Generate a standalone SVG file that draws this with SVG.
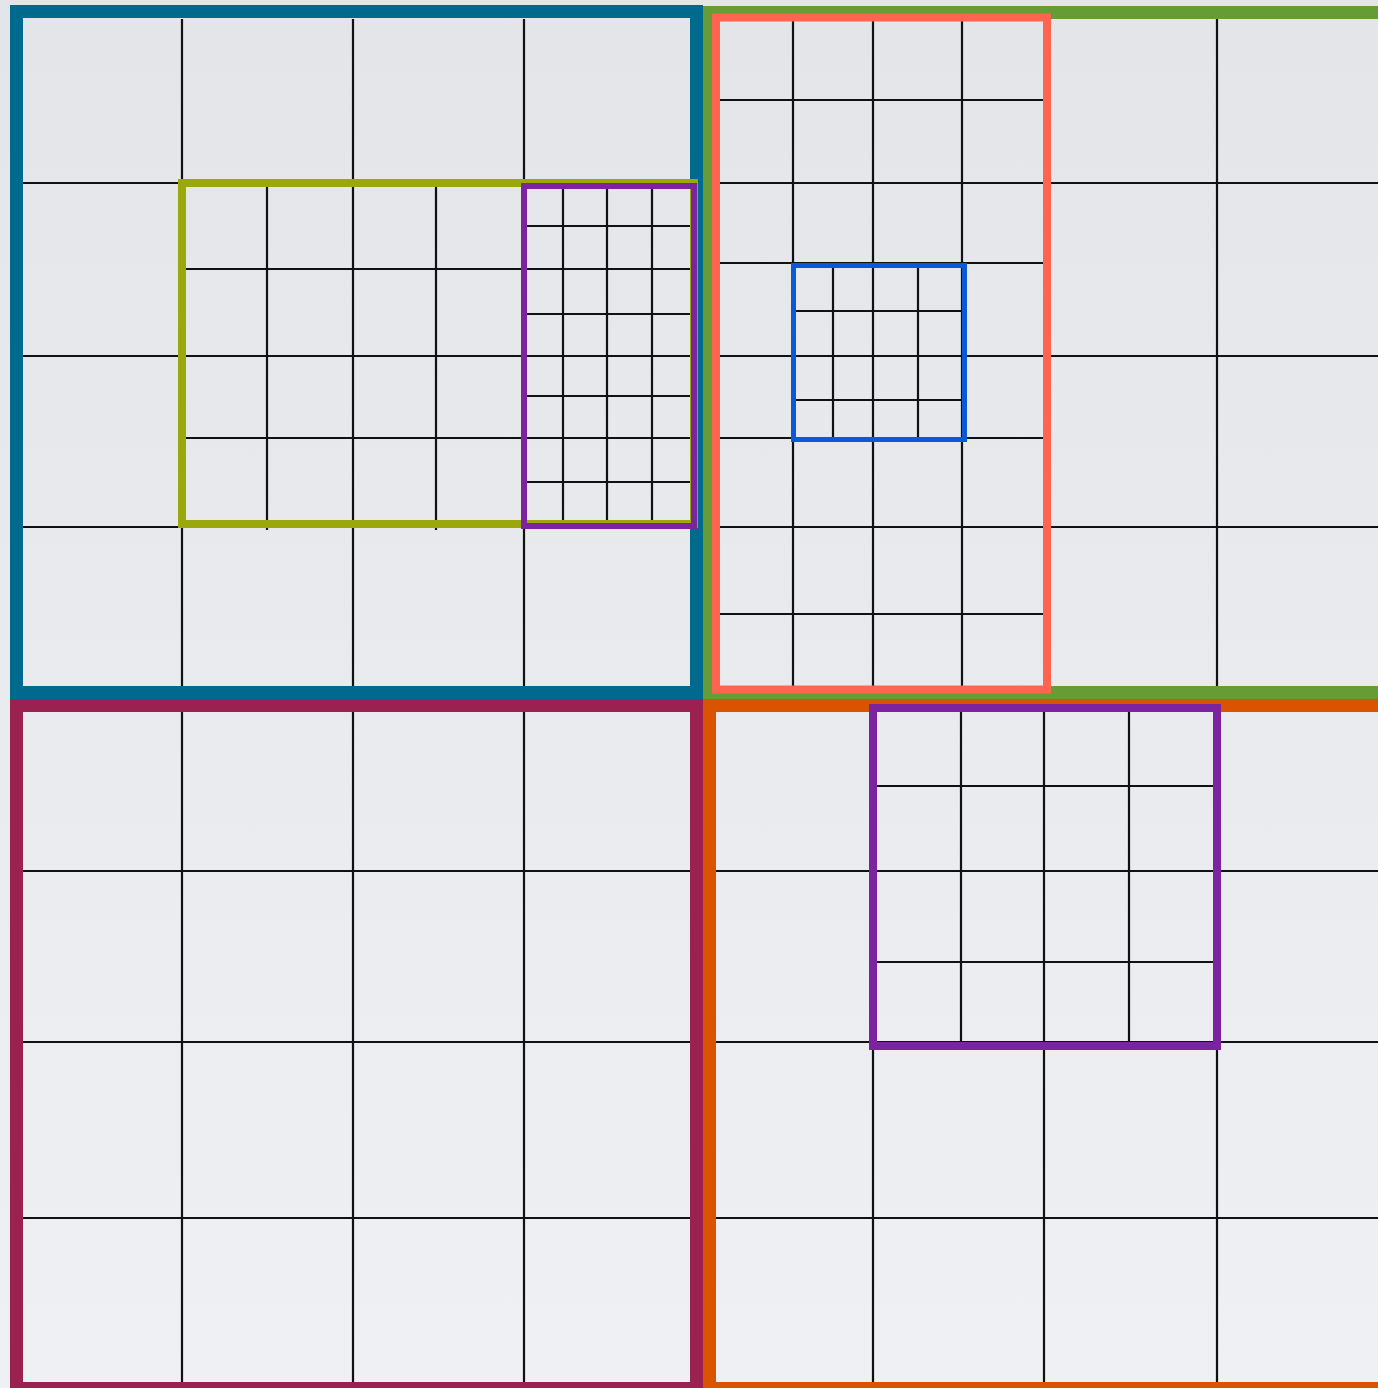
<svg xmlns="http://www.w3.org/2000/svg" width="1378" height="1388" viewBox="0 0 1378 1388">
  <defs>
    <linearGradient id="bg" x1="0" y1="0" x2="0" y2="1">
      <stop offset="0" stop-color="#e3e5e9"/>
      <stop offset="1" stop-color="#eff0f3"/>
    </linearGradient>
  </defs>
  <style>
    .g line { stroke: #111; stroke-width: 2.2; }
    .f { fill: none; }
  </style>
  <rect x="0" y="0" width="1378" height="1388" fill="url(#bg)"/>

  <g id="grid-lines" class="g">
    <!-- top-left quadrant -->
    <line x1="182" y1="19" x2="182" y2="686"/>
    <line x1="353" y1="19" x2="353" y2="686"/>
    <line x1="524" y1="19" x2="524" y2="686"/>
    <line x1="23" y1="183" x2="690" y2="183"/>
    <line x1="23" y1="356" x2="690" y2="356"/>
    <line x1="23" y1="527" x2="690" y2="527"/>
    <!-- yellow frame inner -->
    <line x1="267" y1="187" x2="267" y2="530"/>
    <line x1="436" y1="187" x2="436" y2="530"/>
    <line x1="186" y1="269" x2="521" y2="269"/>
    <line x1="186" y1="438" x2="521" y2="438"/>
    <!-- purple (top-left) inner -->
    <line x1="563" y1="189" x2="563" y2="523"/>
    <line x1="607" y1="189" x2="607" y2="523"/>
    <line x1="652" y1="189" x2="652" y2="523"/>
    <line x1="527" y1="226" x2="691" y2="226"/>
    <line x1="527" y1="269" x2="691" y2="269"/>
    <line x1="527" y1="314" x2="691" y2="314"/>
    <line x1="527" y1="396" x2="691" y2="396"/>
    <line x1="527" y1="438" x2="691" y2="438"/>
    <line x1="527" y1="482" x2="691" y2="482"/>

    <!-- top-right quadrant -->
    <line x1="1217" y1="19" x2="1217" y2="686"/>
    <line x1="716" y1="183" x2="1378" y2="183"/>
    <line x1="716" y1="356" x2="1378" y2="356"/>
    <line x1="716" y1="527" x2="1378" y2="527"/>
    <!-- salmon inner -->
    <line x1="793" y1="21" x2="793" y2="686"/>
    <line x1="873" y1="21" x2="873" y2="686"/>
    <line x1="962" y1="21" x2="962" y2="686"/>
    <line x1="720" y1="100" x2="1043" y2="100"/>
    <line x1="720" y1="263" x2="1043" y2="263"/>
    <line x1="720" y1="438" x2="1043" y2="438"/>
    <line x1="720" y1="614" x2="1043" y2="614"/>
    <!-- blue box inner -->
    <line x1="833" y1="266" x2="833" y2="439"/>
    <line x1="918" y1="266" x2="918" y2="439"/>
    <line x1="794" y1="311" x2="964" y2="311"/>
    <line x1="794" y1="400" x2="964" y2="400"/>

    <!-- bottom-left quadrant -->
    <line x1="182" y1="712" x2="182" y2="1382"/>
    <line x1="353" y1="712" x2="353" y2="1382"/>
    <line x1="524" y1="712" x2="524" y2="1382"/>
    <line x1="23" y1="871" x2="690" y2="871"/>
    <line x1="23" y1="1042" x2="690" y2="1042"/>
    <line x1="23" y1="1218" x2="690" y2="1218"/>

    <!-- bottom-right quadrant -->
    <line x1="873" y1="712" x2="873" y2="1382"/>
    <line x1="1044" y1="712" x2="1044" y2="1382"/>
    <line x1="1217" y1="712" x2="1217" y2="1382"/>
    <line x1="716" y1="871" x2="1378" y2="871"/>
    <line x1="716" y1="1042" x2="1378" y2="1042"/>
    <line x1="716" y1="1218" x2="1378" y2="1218"/>
    <!-- purple (bottom-right) inner -->
    <line x1="961" y1="712" x2="961" y2="1042"/>
    <line x1="1129" y1="712" x2="1129" y2="1042"/>
    <line x1="877" y1="786" x2="1213" y2="786"/>
    <line x1="877" y1="962" x2="1213" y2="962"/>
  </g>

  <g id="frame-top-left">
    <rect class="f" x="16.5" y="11.5" width="680" height="681" stroke="#006a8e" stroke-width="13"/>
  </g>
  <g id="frame-top-right">
    <rect class="f" x="709.5" y="12.5" width="720" height="680" stroke="#659c36" stroke-width="13"/>
  </g>
  <g id="frame-bottom-left">
    <rect class="f" x="16.5" y="705.5" width="680" height="683" stroke="#9a2150" stroke-width="13"/>
  </g>
  <g id="frame-bottom-right">
    <rect class="f" x="709.5" y="705.5" width="720" height="683" stroke="#d95300" stroke-width="13"/>
  </g>
  <g id="frame-salmon">
    <rect class="f" x="716" y="17.5" width="331" height="672" stroke="#fe6450" stroke-width="8"/>
  </g>
  <g id="frame-blue-small">
    <rect class="f" x="793.5" y="265.5" width="171" height="174" stroke="#0a5ad8" stroke-width="5"/>
  </g>
  <g id="frame-yellow">
    <rect class="f" x="182" y="183" width="512" height="341" stroke="#9aa80e" stroke-width="8"/>
  </g>
  <g id="frame-purple-top">
    <rect class="f" x="524" y="186" width="170" height="340" stroke="#7c23a0" stroke-width="6"/>
  </g>
  <g id="frame-purple-bottom">
    <rect class="f" x="873" y="708" width="344" height="338" stroke="#7c23a0" stroke-width="8"/>
  </g>
</svg>
